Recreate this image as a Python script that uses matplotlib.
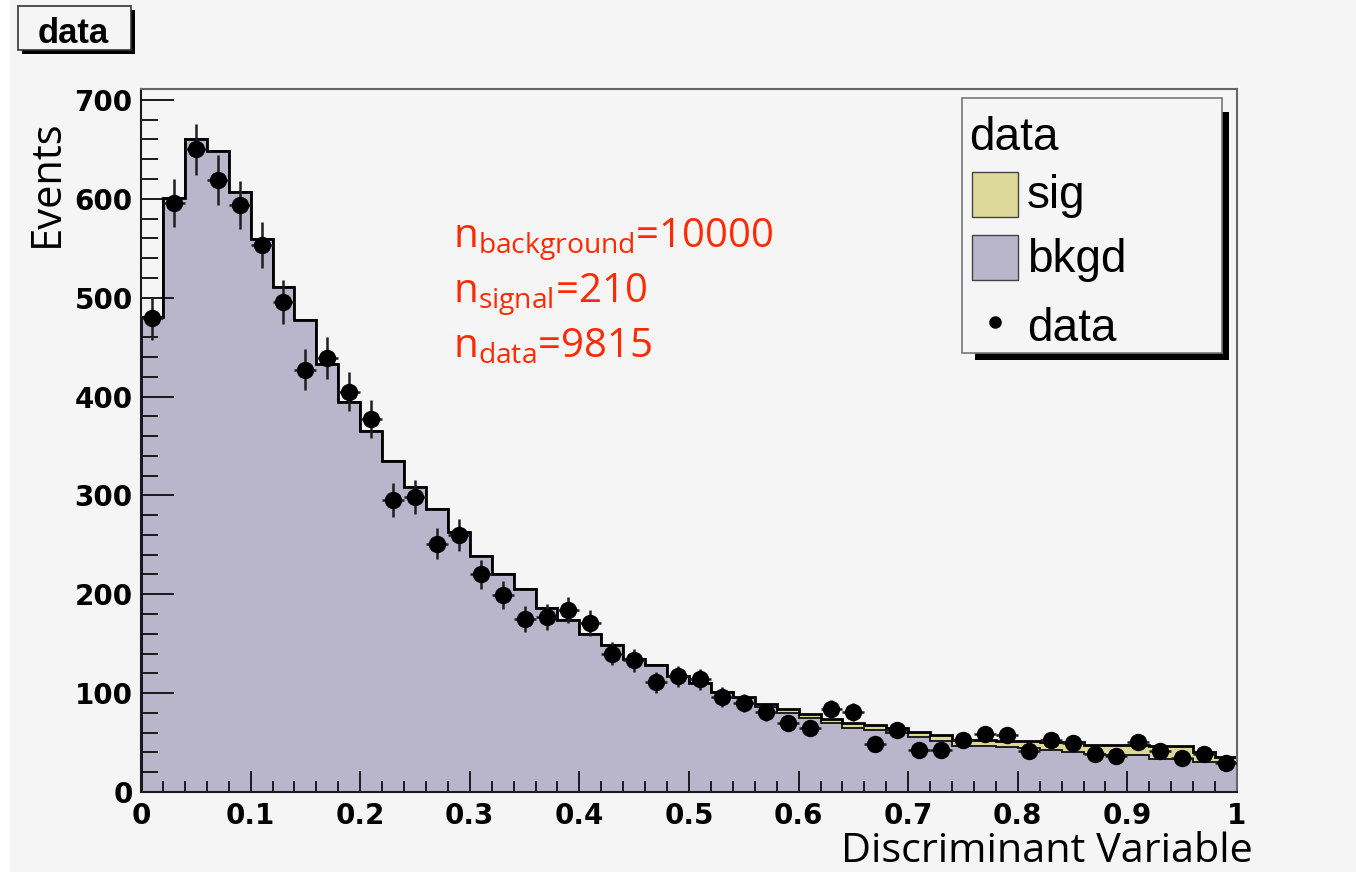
import matplotlib
matplotlib.use("Agg")
import matplotlib.pyplot as plt
from matplotlib.patches import Rectangle
from matplotlib.ticker import MultipleLocator
import numpy as np

# binned discriminant, 50 bins on [0, 1]
bin_edges = np.linspace(0.0, 1.0, 51)

bkgd = [480, 601, 660, 648, 607, 559, 511, 477, 433, 394,
        365, 335, 308, 286, 263, 239, 220, 205, 186, 174,
        160, 149, 135, 128, 117, 110, 101, 95, 86, 80,
        75, 70, 65, 63, 60, 56, 52, 47, 47, 46,
        44, 42, 40, 38, 37, 37, 33, 33, 30, 30]

sig = [0, 0, 0, 0, 0, 0, 0, 0, 0, 0,
       0, 0, 0, 0, 0, 0, 0, 0, 0, 0,
       0, 0, 0, 0, 0, 0, 0, 1, 3, 4,
       4, 4, 5, 5, 5, 5, 6, 6, 6, 6,
       8, 9, 11, 10, 11, 11, 14, 14, 10, 5]

data = [479, 596, 650, 619, 594, 553, 496, 427, 439, 405,
        377, 295, 298, 251, 260, 220, 199, 175, 177, 184,
        171, 140, 133, 111, 117, 114, 96, 90, 81, 70,
        65, 84, 81, 49, 63, 42, 42, 53, 59, 58,
        41, 53, 50, 38, 36, 51, 41, 34, 38, 29]

counts_text = [("background", "10000"), ("signal", "210"), ("data", "9815")]
legend_labels = ["sig", "bkgd", "data"]

BKGD_COLOR = "#b9b6cc"
SIG_COLOR = "#dcd898"
CANVAS = "#f5f5f5"

W, H = 1356, 875


def fx(px):
    return px / W


def fy(py):
    return 1 - py / H


plt.rcParams["mathtext.fontset"] = "custom"
plt.rcParams["mathtext.rm"] = "Open Sans"

fig = plt.figure(figsize=(W / 100, H / 100), dpi=100, facecolor="white")
fig.patches.append(Rectangle((fx(10), fy(872)), fx(1346), 872 / H,
                             transform=fig.transFigure, facecolor=CANVAS,
                             edgecolor="none", zorder=-10))

ax = fig.add_axes([fx(141), fy(792), (1237 - 141) / W, (792 - 89) / H])
ax.set_facecolor(CANVAS)

bkgd = np.array(bkgd, dtype=float)
sig = np.array(sig, dtype=float)
data = np.array(data, dtype=float)
centers = 0.5 * (bin_edges[:-1] + bin_edges[1:])

# stacked histogram: background then signal on top
ax.stairs(bkgd, bin_edges, fill=True, color=BKGD_COLOR, zorder=1)
ax.stairs(bkgd + sig, bin_edges, baseline=bkgd, fill=True, color=SIG_COLOR, zorder=1)
ax.stairs(bkgd, bin_edges, color="#111111", lw=1.3, zorder=2)
ax.stairs(bkgd + sig, bin_edges, color="black", lw=2.0, zorder=2)

ax.errorbar(centers, data, xerr=0.01, yerr=np.sqrt(data), fmt="o", color="black",
            ecolor="#1e1e1e", elinewidth=1.8, markersize=11.5, capsize=0, zorder=3)

ax.set_xlim(0, 1)
ax.set_ylim(0, 711)

ax.xaxis.set_major_locator(MultipleLocator(0.1))
ax.xaxis.set_minor_locator(MultipleLocator(0.02))
ax.yaxis.set_major_locator(MultipleLocator(100))
ax.yaxis.set_minor_locator(MultipleLocator(20))
ax.xaxis.set_major_formatter(plt.FuncFormatter(lambda v, p: "%g" % round(v, 2)))

ax.tick_params(axis="both", which="both", direction="in", colors="#1a1a1a",
               labelcolor="black", top=False, right=False)
ax.tick_params(axis="y", which="major", length=23.5, width=1.4, pad=6)
ax.tick_params(axis="y", which="minor", length=12, width=1.4)
ax.tick_params(axis="x", which="major", length=15, width=1.4, pad=7)
ax.tick_params(axis="x", which="minor", length=8, width=1.4)

for lab in ax.get_xticklabels() + ax.get_yticklabels():
    lab.set_family("DejaVu Sans")
    lab.set_weight("bold")
    lab.set_fontsize(20)

for side in ("left", "bottom"):
    ax.spines[side].set_color("#1a1a1a")
    ax.spines[side].set_linewidth(1.5)
for side in ("top", "right"):
    ax.spines[side].set_color("#666666")
    ax.spines[side].set_linewidth(1.5)

# axis titles
fig.text(fx(47), fy(183), "Events", rotation=90, ha="center", va="center",
         family="Open Sans", fontsize=30)
fig.text(fx(1253), fy(862), "Discriminant Variable", ha="right", va="baseline",
         family="Open Sans", fontsize=29.8)

# event counts
for i, (name, value) in enumerate(counts_text):
    fig.text(fx(453), fy(247 + 55 * i),
             r"$\mathrm{n}_{\mathrm{%s}}$=%s" % (name, value),
             ha="left", va="baseline", family="Open Sans", fontsize=29,
             color="#ff2a00")

# title box in the top-left corner
fig.patches.append(Rectangle((fx(22), fy(54)), 113 / W, 44 / H,
                             transform=fig.transFigure, facecolor="black",
                             edgecolor="none"))
fig.patches.append(Rectangle((fx(18), fy(50)), 113 / W, 44 / H,
                             transform=fig.transFigure, facecolor=CANVAS,
                             edgecolor="#333333", lw=1.2))
fig.text(fx(73), fy(43), "data", ha="center", va="baseline",
         family="Liberation Sans", weight="bold", fontsize=25)

# legend
fig.patches.append(Rectangle((fx(975), fy(360)), 254 / W, 248 / H,
                             transform=fig.transFigure, facecolor="black",
                             edgecolor="none"))
fig.patches.append(Rectangle((fx(962), fy(353)), 260 / W, 255 / H,
                             transform=fig.transFigure, facecolor=CANVAS,
                             edgecolor="#777777", lw=1.2))
fig.text(fx(969), fy(150), "data", ha="left", va="baseline",
         family="Liberation Sans", fontsize=33)
for color, top, label, base in [(SIG_COLOR, 172, legend_labels[0], 208),
                                (BKGD_COLOR, 235, legend_labels[1], 272)]:
    fig.patches.append(Rectangle((fx(972), fy(top + 45)), 46 / W, 45 / H,
                                 transform=fig.transFigure, facecolor=color,
                                 edgecolor="#444444", lw=1.0))
    fig.text(fx(1027), fy(base), label, ha="left", va="baseline",
             family="Liberation Sans", fontsize=33)
fig.lines.append(plt.Line2D([fx(995)], [fy(322)], marker="o", markersize=8,
                            color="black", transform=fig.transFigure))
fig.text(fx(1027), fy(341), legend_labels[2], ha="left", va="baseline",
         family="Liberation Sans", fontsize=33)

fig.savefig("out.png", dpi=100, facecolor="white")
